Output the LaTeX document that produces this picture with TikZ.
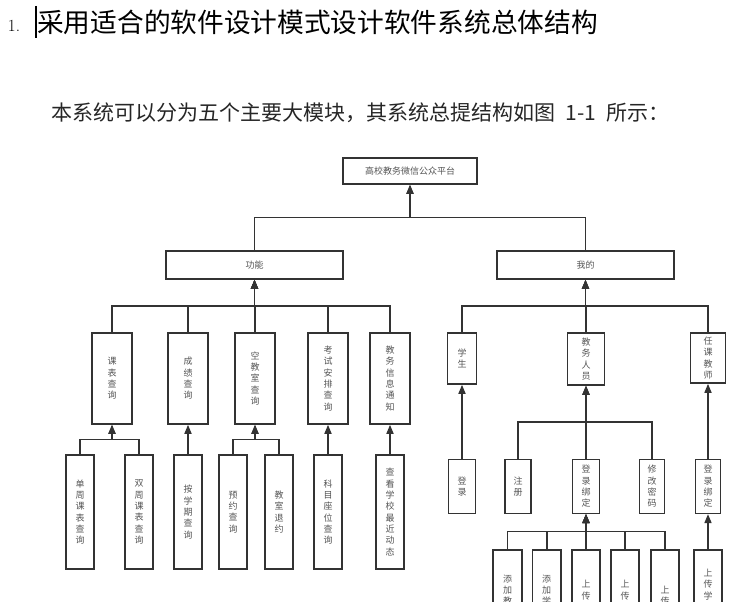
\documentclass[tikz,border=0pt]{standalone}
\usepackage{fontspec}
\newfontfamily\cjk{Noto Sans CJK SC}
\usetikzlibrary{arrows.meta,calc}

\definecolor{linegray}{HTML}{333333}
\definecolor{textgray}{HTML}{555555}

\begin{document}
\begin{tikzpicture}[x=1pt, y=-1pt,
    box/.style={draw=linegray, line width=1.6pt, fill=white, inner sep=0pt,
        text=textgray, align=center, font=\cjk\fontsize{9}{11.3}\selectfont},
    up/.style={draw=linegray, line width=1.6pt, -{Triangle[length=9pt,width=7pt]}}]
    \useasboundingbox (0,0) rectangle (731,602);
    \clip (0,0) rectangle (731,602);

    % page text
    \node at (14,26) {\fontsize{17}{17}\selectfont 1.};
    \draw [line width=1.2pt] (36,6) -- (36,38);
    \node [anchor=west, inner sep=0pt] at (37,22)
        {\cjk\fontsize{26.7}{26.7}\selectfont 采用适合的软件设计模式设计软件系统总体结构};
    \node [anchor=west, inner sep=0pt, text=black!85] at (51,113)
        {\cjk\fontsize{21}{21}\selectfont 本系统可以分为五个主要大模块，其系统总提结构如图\hspace{0.5em}1-1\hspace{0.5em}所示：};

    % top levels
    \node [box, minimum width=134, minimum height=26] (plat) at (410,171) {高校教务微信公众平台};
    \node [box, minimum width=177, minimum height=28] (func) at (254.5,265) {功能};
    \node [box, minimum width=177, minimum height=28] (mine) at (585.5,265) {我的};

    % functions
    \node [box, minimum width=40, minimum height=91] (kebiao) at (112,378.5) {课\\表\\查\\询};
    \node [box, minimum width=40, minimum height=91] (chengji) at (188,378.5) {成\\绩\\查\\询};
    \node [box, minimum width=40, minimum height=91] (kongjs) at (255,378.5) {空\\教\\室\\查\\询};
    \node [box, minimum width=40, minimum height=91] (kaoshi) at (328,378.5) {考\\试\\安\\排\\查\\询};
    \node [box, minimum width=40, minimum height=91] (tongzhi) at (390,378.5) {教\\务\\信\\息\\通\\知};

    \node [box, minimum width=28.5, minimum height=114] (danzhou) at (80,512) {单\\周\\课\\表\\查\\询};
    \node [box, minimum width=28.5, minimum height=114] (shuangzhou) at (139,512) {双\\周\\课\\表\\查\\询};
    \node [box, minimum width=28.5, minimum height=114] (xueqi) at (188,512) {按\\学\\期\\查\\询};
    \node [box, minimum width=28.5, minimum height=114] (yuyue) at (233,512) {预\\约\\查\\询};
    \node [box, minimum width=28.5, minimum height=114] (tuiyue) at (279,512) {教\\室\\退\\约};
    \node [box, minimum width=28.5, minimum height=114] (zuowei) at (328,512) {科\\目\\座\\位\\查\\询};
    \node [box, minimum width=28.5, minimum height=114] (dongtai) at (390,512) {查\\看\\学\\校\\最\\近\\动\\态};

    % my part
    \node [box, minimum width=29, minimum height=51] (xuesheng) at (462,358.5) {学\\生};
    \node [box, minimum width=37, minimum height=52] (jiaowu) at (586,359) {教\\务\\人\\员};
    \node [box, minimum width=35, minimum height=50] (jiaoshi) at (708,358) {任\\课\\教\\师};

    \node [box, minimum width=27, minimum height=54] (denglu) at (462,486.3) {登\\录};
    \node [box, minimum width=26, minimum height=54] (zhuce) at (518,486.3) {注\\册};
    \node [box, minimum width=27, minimum height=54] (bangding) at (586,486.3) {登\\录\\绑\\定};
    \node [box, minimum width=25, minimum height=54] (xiugai) at (652,486.3) {修\\改\\密\\码};
    \node [box, minimum width=25, minimum height=54] (bangding2) at (708,486.3) {登\\录\\绑\\定};

    \node [box, minimum width=28.5, minimum height=114] (tianjs) at (507.5,607) {添\\加\\教\\师\\信\\息};
    \node [box, minimum width=28.5, minimum height=114] (tianxs) at (546.7,607) {添\\加\\学\\生\\信\\息};
    \node [box, minimum width=28.5, minimum height=114] (shangks) at (586,607) {上\\传\\考\\试\\表};
    \node [box, minimum width=28.5, minimum height=114] (shangjs) at (625,607) {上\\传\\教\\室\\表};
    \node [box, minimum width=28.5, minimum height=114] (shangcj) at (665,607) {上\\传\\成\\绩};
    \node [box, minimum width=28.5, minimum height=114] (shangxs) at (708,607) {上\\传\\学\\生\\成\\绩\\单};

    % connectors, child -> parent
    \foreach \c/\p in {func/plat, mine/plat,
        kebiao/func, chengji/func, kongjs/func, kaoshi/func, tongzhi/func,
        danzhou/kebiao, shuangzhou/kebiao, xueqi/chengji, yuyue/kongjs, tuiyue/kongjs,
        zuowei/kaoshi, dongtai/tongzhi,
        xuesheng/mine, jiaowu/mine, jiaoshi/mine,
        denglu/xuesheng, zhuce/jiaowu, bangding/jiaowu, xiugai/jiaowu, bangding2/jiaoshi,
        tianjs/bangding, tianxs/bangding, shangks/bangding, shangjs/bangding, shangcj/bangding,
        shangxs/bangding2}
        \draw [up] (\c.north) |- ($(\c.north)!.5!(\p.south)$) -| (\p.south);
\end{tikzpicture}
\end{document}
